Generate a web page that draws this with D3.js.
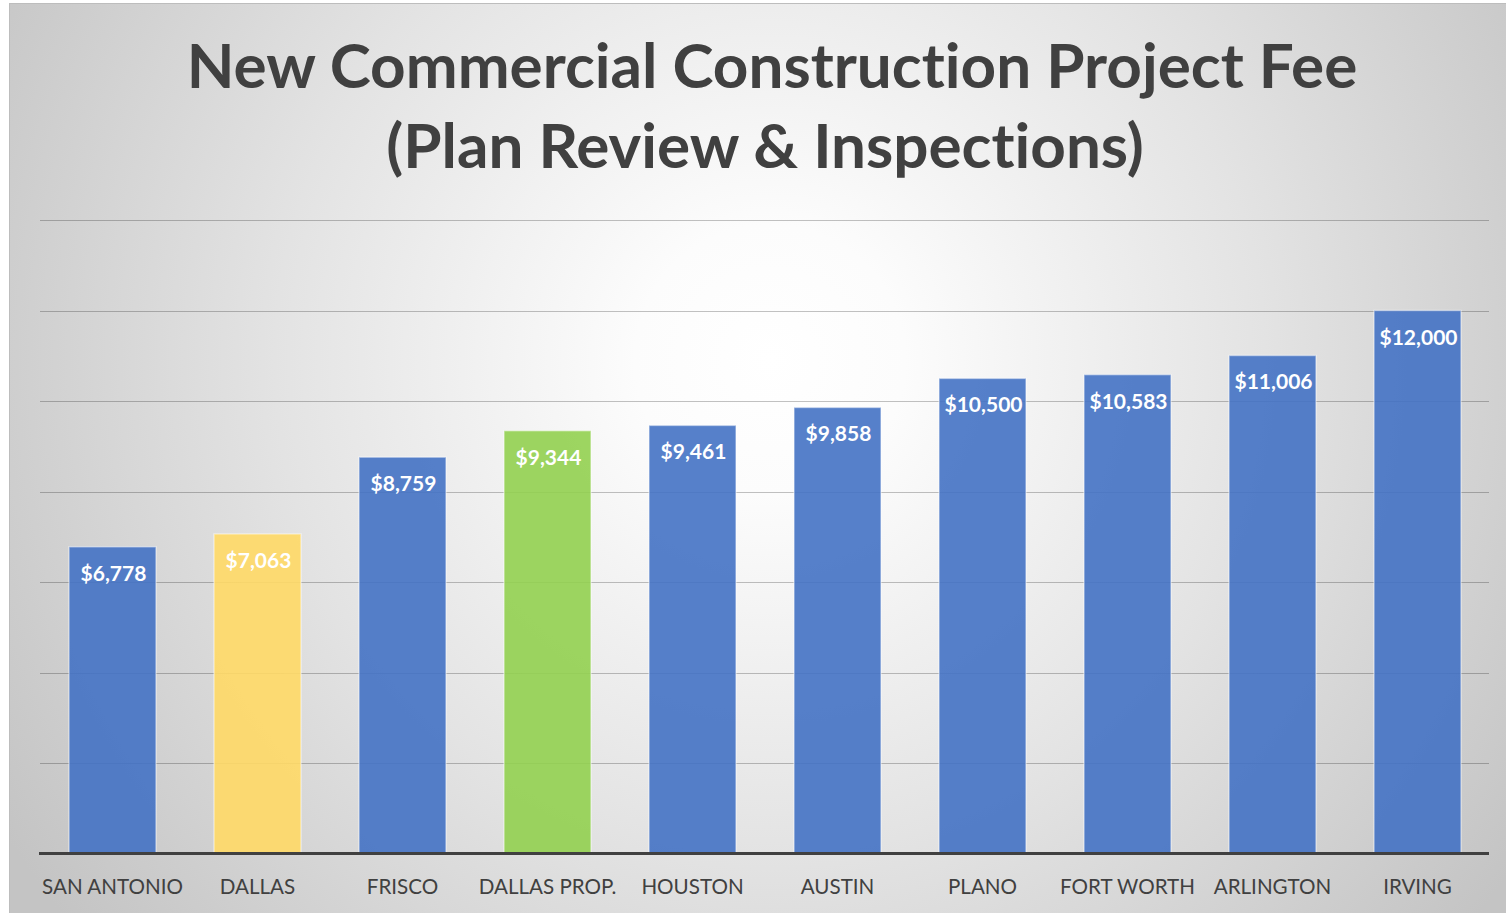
<!DOCTYPE html>
<html>
<head>
<meta charset="utf-8">
<script src="https://cdn.jsdelivr.net/npm/d3@7"></script>
<style>
html,body{margin:0;padding:0;background:#fff;overflow:hidden;}
svg{display:block;}
text{font-variant-ligatures:none;font-feature-settings:"liga" 0;}
</style>
</head>
<body>
<svg id="chart" width="1506" height="913"></svg>
<script>
const categories = ["SAN ANTONIO","DALLAS","FRISCO","DALLAS PROP.","HOUSTON","AUSTIN","PLANO","FORT WORTH","ARLINGTON","IRVING"];
const values = [6778,7063,8759,9344,9461,9858,10500,10583,11006,12000];
const barColors = ["#4472C4","#FFD966","#4472C4","#92D050","#4472C4","#4472C4","#4472C4","#4472C4","#4472C4","#4472C4"];
const yTicks = [2000,4000,6000,8000,10000,12000,14000];
const titleLines = ["New Commercial Construction Project Fee","(Plan Review & Inspections)"];

const svg = d3.select("#chart");
const defs = svg.append("defs");
const grad = defs.append("radialGradient").attr("id","bg")
  .attr("gradientUnits","userSpaceOnUse").attr("cx",770).attr("cy",360).attr("r",900);
[[0,"#ffffff"],[0.15,"#fcfcfc"],[0.55,"#e3e3e3"],[0.88,"#cccccc"],[1,"#c4c4c4"]]
  .forEach(s=>grad.append("stop").attr("offset",s[0]).attr("stop-color",s[1]));

svg.append("rect").attr("x",9.5).attr("y",3.5).attr("width",1530).attr("height",940)
  .attr("fill","url(#bg)").attr("stroke","#bdbdbd").attr("stroke-width",1);

const x = d3.scaleBand().domain(categories).range([40,1490]).paddingInner(0.4).paddingOuter(0.2);
const y = d3.scaleLinear().domain([0,14000]).range([853.5,220]);

// gridlines
svg.append("g").selectAll("line").data(yTicks).join("line")
  .attr("x1",40).attr("x2",1489)
  .attr("y1",d=>Math.round(y(d))+0.5).attr("y2",d=>Math.round(y(d))+0.5)
  .attr("stroke","rgba(0,0,0,0.24)").attr("stroke-width",1.2);

// bars
svg.append("g").selectAll("rect").data(values).join("rect")
  .attr("x",(d,i)=>x(categories[i]))
  .attr("y",d=>y(d))
  .attr("width",x.bandwidth())
  .attr("height",d=>y(0)-y(d))
  .attr("fill",(d,i)=>barColors[i])
  .attr("fill-opacity",0.9)
  .attr("stroke","rgba(255,255,255,0.45)")
  .attr("stroke-width",1.5);

// baseline axis
const xAxis = d3.axisBottom(x).tickSize(0).tickPadding(0);
const ax = svg.append("g").attr("transform",`translate(0,${y(0)})`).call(xAxis);
ax.select(".domain").attr("stroke","#404040").attr("stroke-width",3).attr("d","M39,0H1489");
ax.selectAll(".tick text")
  .attr("y",40).attr("dy",null)
  .attr("font-family","Lato, 'Open Sans', sans-serif")
  .attr("font-size",20.6)
  .attr("fill","#404040");

// data labels
svg.append("g").selectAll("text").data(values).join("text")
  .attr("x",(d,i)=>x(categories[i])+x.bandwidth()/2+1)
  .attr("y",d=>y(d)+34)
  .attr("text-anchor","middle")
  .attr("font-family","Lato, 'Open Sans', sans-serif")
  .attr("font-weight","bold")
  .attr("font-size",21)
  .attr("fill","#ffffff")
  .text(d=>"$"+d3.format(",")(d));

// title
svg.append("g").selectAll("text").data(titleLines).join("text")
  .attr("x",(d,i)=> i===0?772:765)
  .attr("y",(d,i)=>88+i*80)
  .attr("text-anchor","middle")
  .attr("font-family","Lato, 'Open Sans', sans-serif")
  .attr("font-weight","bold")
  .attr("font-size",62)
  .attr("fill","#404040")
  .text(d=>d);
</script>
</body>
</html>
